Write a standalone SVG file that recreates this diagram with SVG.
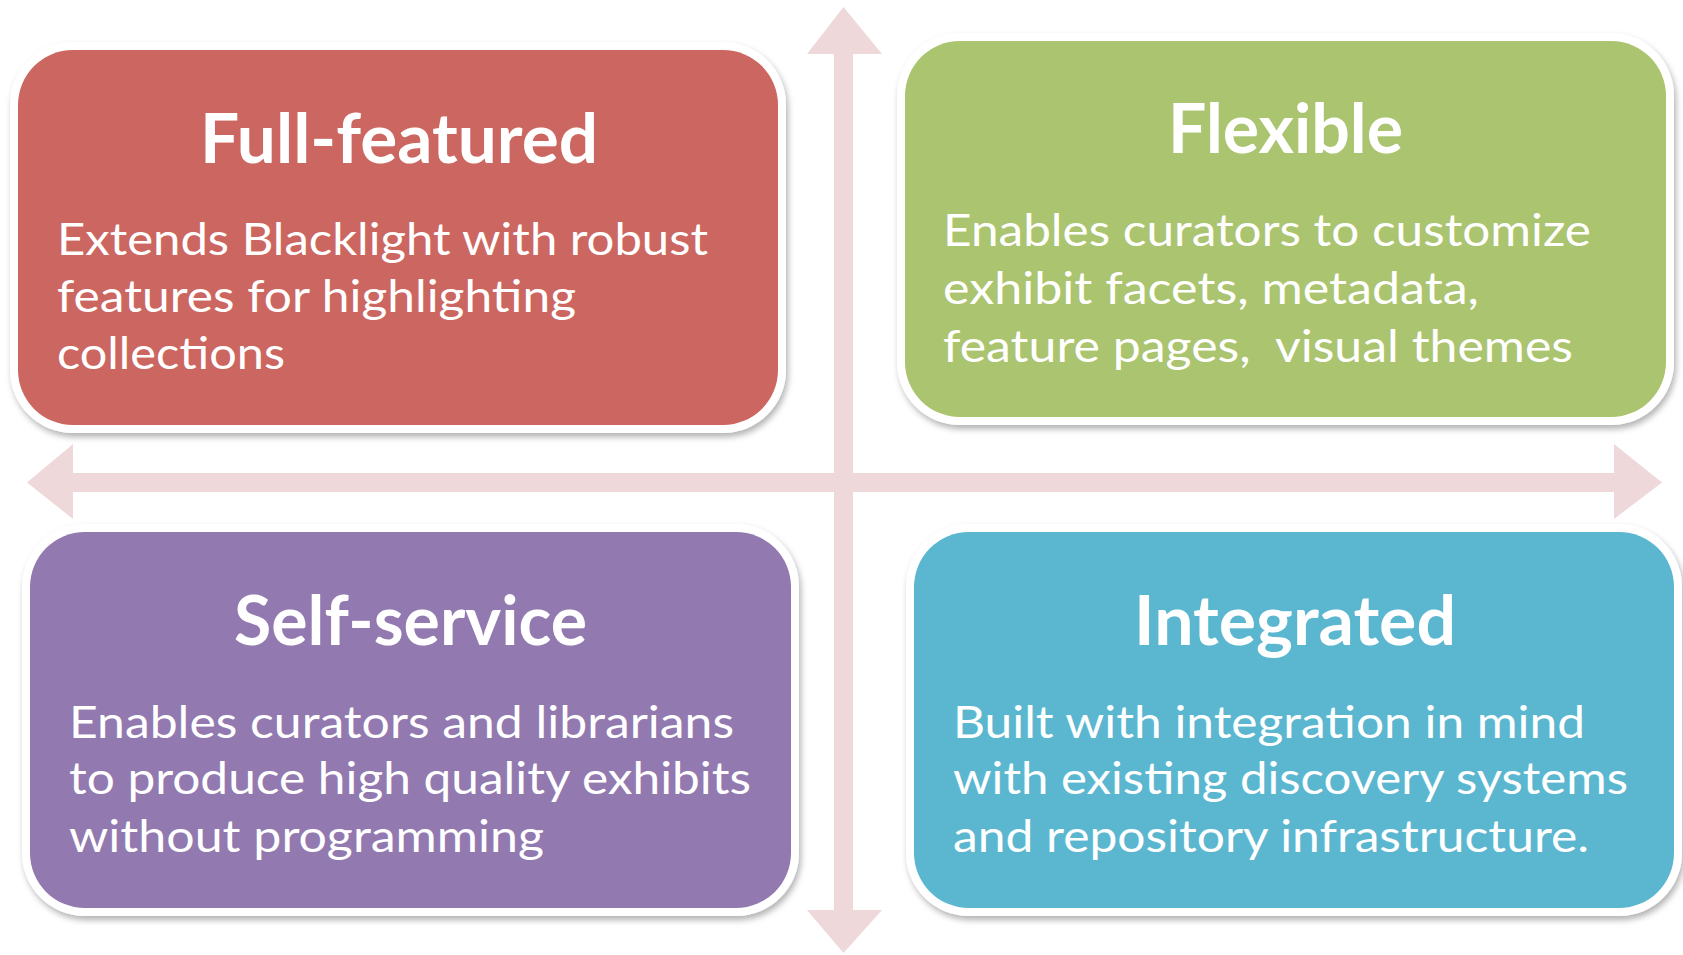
<svg xmlns="http://www.w3.org/2000/svg" width="1683" height="955" viewBox="0 0 1683 955">
  <defs>
    <filter id="shadow" x="-5%" y="-5%" width="110%" height="115%">
      <feDropShadow dx="2" dy="4" stdDeviation="3" flood-color="#000" flood-opacity="0.3"/>
    </filter>
    <style>
      .frame { fill: #ffffff; filter: url(#shadow); }
      .title { font-family: Lato, "Open Sans", sans-serif; font-weight: 700; font-size: 68px; fill: #ffffff; }
      .body { font-family: Lato, "Open Sans", sans-serif; font-weight: 400; font-size: 44px; fill: #ffffff; white-space: pre; }
      .axis { fill: #EED8DA; }
    </style>
  </defs>
  <rect width="1683" height="955" fill="#ffffff"/>

  <g id="connectors">
    <path class="axis" d="M843.5,7 L882,54 L853,54 L853,910 L882,910 L843.5,953 L807,910 L834,910 L834,54 L807,54 Z"/>
    <path class="axis" d="M27,482.5 L73,444 L73,473 L1614,473 L1614,444 L1662,482.5 L1614,519 L1614,492 L73,492 L73,519 Z"/>
  </g>

  <g id="full-featured">
    <rect class="frame" x="10" y="42" width="776" height="391" rx="63"/>
    <rect x="18" y="50" width="760" height="375" rx="55" fill="#CC6660"/>
    <text class="title" x="200" y="163" textLength="398" lengthAdjust="spacingAndGlyphs">Full-featured</text>
    <text class="body" x="57" y="255" textLength="651" lengthAdjust="spacingAndGlyphs">Extends Blacklight with robust</text>
    <text class="body" x="57" y="312" textLength="519" lengthAdjust="spacingAndGlyphs">features for highlighting</text>
    <text class="body" x="57" y="369" textLength="228" lengthAdjust="spacingAndGlyphs">collections</text>
  </g>

  <g id="flexible">
    <rect class="frame" x="897" y="33" width="777" height="392" rx="63"/>
    <rect x="905" y="41" width="761" height="376" rx="55" fill="#ABC46F"/>
    <text class="title" x="1168" y="153" textLength="235" lengthAdjust="spacingAndGlyphs">Flexible</text>
    <text class="body" x="943" y="246" textLength="648" lengthAdjust="spacingAndGlyphs">Enables curators to customize</text>
    <text class="body" x="943" y="304" textLength="536" lengthAdjust="spacingAndGlyphs">exhibit facets, metadata,</text>
    <text class="body" x="943" y="362" textLength="630" lengthAdjust="spacingAndGlyphs">feature pages,  visual themes</text>
  </g>

  <g id="self-service">
    <rect class="frame" x="22" y="524" width="777" height="392" rx="63"/>
    <rect x="30" y="532" width="761" height="376" rx="55" fill="#9279B0"/>
    <text class="title" x="234" y="645" textLength="353" lengthAdjust="spacingAndGlyphs">Self-service</text>
    <text class="body" x="69" y="738" textLength="665" lengthAdjust="spacingAndGlyphs">Enables curators and librarians</text>
    <text class="body" x="69" y="794" textLength="682" lengthAdjust="spacingAndGlyphs">to produce high quality exhibits</text>
    <text class="body" x="69" y="852" textLength="475" lengthAdjust="spacingAndGlyphs">without programming</text>
  </g>

  <g id="integrated">
    <rect class="frame" x="906" y="524" width="776" height="392" rx="63"/>
    <rect x="914" y="532" width="760" height="376" rx="55" fill="#5BB7D0"/>
    <text class="title" x="1134" y="645" textLength="322" lengthAdjust="spacingAndGlyphs">Integrated</text>
    <text class="body" x="953" y="738" textLength="632" lengthAdjust="spacingAndGlyphs">Built with integration in mind</text>
    <text class="body" x="953" y="794" textLength="675" lengthAdjust="spacingAndGlyphs">with existing discovery systems</text>
    <text class="body" x="953" y="852" textLength="636" lengthAdjust="spacingAndGlyphs">and repository infrastructure.</text>
  </g>
</svg>
